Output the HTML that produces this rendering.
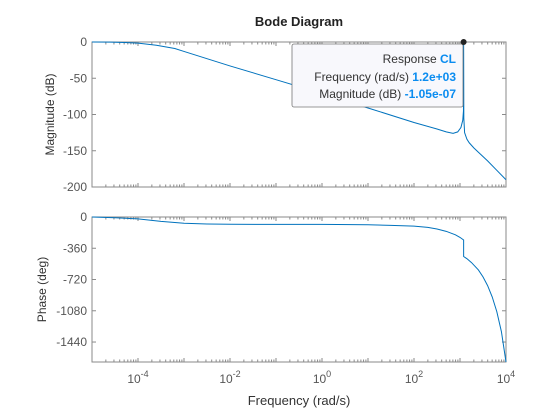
<!DOCTYPE html>
<html><head><meta charset="utf-8"><style>
html,body{margin:0;padding:0;background:#fff;}
svg{display:block;font-family:"Liberation Sans",Arial,sans-serif;}
</style></head><body>
<svg id="chart" width="560" height="420" viewBox="0 0 560 420" xmlns="http://www.w3.org/2000/svg">
<rect width="560" height="420" fill="#fff"/>
<text x="299" y="26" text-anchor="middle" font-size="13" font-weight="bold" fill="#222">Bode Diagram</text>
<g id="g"></g>
</svg>
<script>
const magFreqLog = [-5,-4.6,-4.3,-4,-3.6,-3.2,-3,-2,-1,0,1,2,2.5,2.7,2.85,2.95,3.02,3.06,3.075,3.079,3.083,3.1,3.15,3.2,3.3,3.4,3.6,3.8,4];
const magValues  = [0,-0.2,-0.6,-1.5,-4.5,-9,-13,-33,-52,-71,-91,-111,-120,-124,-126,-124,-118,-108,-95,0,-105,-125,-134,-139,-146,-152,-164,-177,-190];
const phFreqLog = [-5,-4.5,-4,-3.5,-3,-2.5,-2,-1,0,1,1.5,2,2.3,2.5,2.7,2.9,3.0,3.079,3.0791,3.15,3.25,3.4,3.5,3.6,3.7,3.8,3.9,4];
const phValues  = [0,-8,-22,-50,-72,-80,-84,-85,-85,-90,-96,-105,-120,-138,-165,-205,-235,-265,-455,-480,-525,-610,-690,-790,-920,-1090,-1320,-1670];
const xTickExps = [-4,-2,0,2,4];
const magTicks = [0,-50,-100,-150,-200];
const phTicks = [0,-360,-720,-1080,-1440];

const NS="http://www.w3.org/2000/svg";
const g=document.getElementById('g');
const L=92,R=506;
const xs=v=>L+(v+5)/9*(R-L);
const top1=42,bot1=187,top2=217,bot2=362;
const ym=v=>top1+(0-v)/200*(bot1-top1);
const yp=v=>top2+(0-v)/1670*(bot2-top2);
function el(t,a,p){const e=document.createElementNS(NS,t);for(const k in a)e.setAttribute(k,a[k]);(p||g).appendChild(e);return e;}

function axes(name,top,bot,ticks,yf,label,lx){
  const ax=el('g',{});
  
  
  el('rect',{x:L,y:top,width:R-L,height:bot-top,fill:'#fff',stroke:'#8a8a8a','stroke-width':1},ax);
  // log ticks
  for(let d=-5;d<4;d++){for(let m=1;m<10;m++){const x=xs(d+Math.log10(m));const len=m===1?4:2.5;
    el('line',{x1:x,y1:bot,x2:x,y2:bot-len,stroke:'#8a8a8a'},ax);
    el('line',{x1:x,y1:top,x2:x,y2:top+len,stroke:'#8a8a8a'},ax);}}
  ticks.forEach(t=>{const y=yf(t);
    el('line',{x1:L,y1:y,x2:L+4,y2:y,stroke:'#8a8a8a'},ax);
    el('line',{x1:R,y1:y,x2:R-4,y2:y,stroke:'#8a8a8a'},ax);
    const tx=el('text',{x:L-5,y:y+4,'text-anchor':'end','font-size':12,fill:'#555'},ax);
    
    
    tx.textContent=t;});
  const yl=el('text',{transform:`translate(${lx},${(top+bot)/2}) rotate(-90)`,'text-anchor':'middle','font-size':12,fill:'#333'},ax);
  
  
  yl.textContent=label;
}
axes('magnitude-axes',top1,bot1,magTicks,ym,'Magnitude (dB)',54);
axes('phase-axes',top2,bot2,phTicks,yp,'Phase (deg)',46);

xTickExps.forEach(e=>{const x=xs(e);
  const t=el('text',{x:x,y:383,'text-anchor':'middle','font-size':12,fill:'#555'});
  
  
  t.appendChild(document.createTextNode('10'));
  const s=el('tspan',{dy:-6,'font-size':9},t);s.textContent=e;});
const xl=el('text',{x:299,y:405,'text-anchor':'middle','font-size':13,fill:'#333'});


xl.textContent='Frequency (rad/s)';

function line(xsArr,ysArr,yf,name){
  const d=xsArr.map((v,i)=>(i?'L':'M')+xs(v).toFixed(2)+','+yf(ysArr[i]).toFixed(2)).join('');
  const p=el('path',{d:d,fill:'none',stroke:'#0072BD','stroke-width':1});
  
  
}
line(magFreqLog,magValues,ym,'magnitude-line');
line(phFreqLog,phValues,yp,'phase-line');

// data tip
const tip=el('g',{});


el('rect',{x:292,y:44,width:171,height:63,rx:2,fill:'#f8f8fc',stroke:'#777','stroke-width':0.8},tip);
const rows=[['Response ','CL',63],['Frequency (rad/s) ','1.2e+03',81],['Magnitude (dB) ','-1.05e-07',98]];
rows.forEach(r=>{const t=el('text',{x:456,y:r[2],'text-anchor':'end','font-size':12,fill:'#333'},tip);
  t.appendChild(document.createTextNode(r[0]));
  const s=el('tspan',{fill:'#0a8cf0','font-weight':'bold'},t);s.textContent=r[1];});
const mk=el('circle',{cx:xs(3.079),cy:ym(0),r:2.5,fill:'#222',stroke:'#222'});


</script>
</body></html>
